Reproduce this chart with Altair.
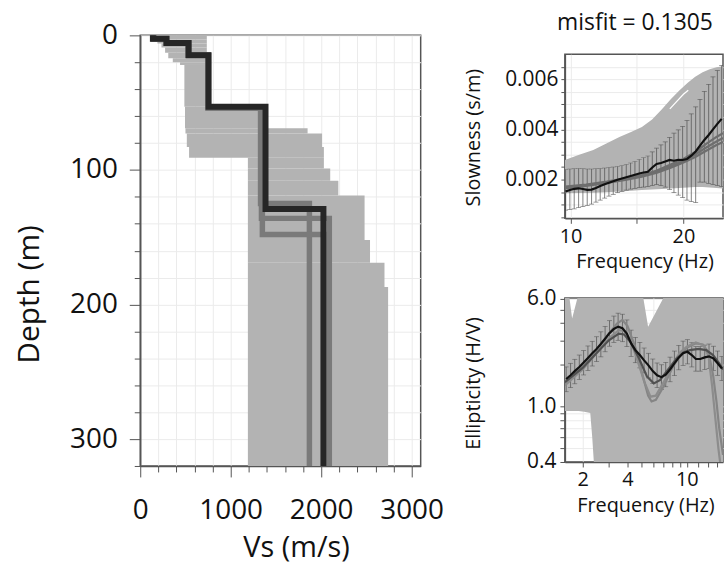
import altair as alt
import pandas as pd

FONT = "Open Sans"
LIGHT = "#b3b3b3"
MID = "#7a7a7a"
DARK = "#262626"
FRAME = "#555555"
TXT = "#111111"

# ---------------- Vs profile panel ----------------
env_top = [0, 3, 6, 9, 13, 17, 20, 22, 53, 69, 73, 83, 91, 99, 108, 119, 152, 169, 187]
env_bot = [3, 6, 9, 13, 17, 20, 22, 53, 69, 73, 83, 91, 99, 108, 119, 152, 169, 187, 320]
env_vmin = [145, 190, 235, 275, 310, 360, 440, 488, 495, 500, 515, 540, 1190, 1190, 1190, 1190, 1190, 1190, 1190]
env_vmax = [736, 736, 736, 736, 750, 750, 750, 750, 1390, 1850, 2010, 2030, 2030, 2100, 2190, 2480, 2540, 2700, 2740]

best_depth = [0, 2.5, 5.7, 14.8, 53, 129, 320]
best_vs = [140, 290, 535, 755, 1385, 2025]
alt1_depth = [0, 2.5, 5.7, 14.8, 53, 125, 320]
alt1_vs = [140, 290, 535, 755, 1330, 1870]
alt2_depth = [0, 2.5, 5.7, 14.8, 54, 136, 320]
alt2_vs = [150, 290, 530, 750, 1340, 2090]
alt3_depth = [0, 2.5, 5.7, 14.8, 54, 148, 320]
alt3_vs = [150, 290, 530, 750, 1350, 2030]

vs_ticks = [0, 200, 400, 600, 800, 1000, 1200, 1400, 1600, 1800, 2000, 2200, 2400, 2600, 2800, 3000]
depth_ticks = [0, 20, 40, 60, 80, 100, 120, 140, 160, 180, 200, 220, 240, 260, 280, 300, 320]

# ---------------- Slowness panel ----------------
slo_env_f = [9.66, 10.5, 11.5, 12.5, 13.5, 14.5, 15.5, 16.5, 17.5, 18.5, 19.5, 20.5, 21.5, 22.5, 23.5, 24.5, 25.5]
slo_env_lo = [0.00145, 0.00146, 0.00147, 0.00149, 0.00152, 0.00155, 0.00158, 0.00160, 0.00162, 0.00164,
              0.00166, 0.00168, 0.00170, 0.00170, 0.00168, 0.00166, 0.00164]
slo_env_hi = [0.00278, 0.00298, 0.00318, 0.00345, 0.00370, 0.00390, 0.00410, 0.00440, 0.00480, 0.00520,
              0.00555, 0.00585, 0.00610, 0.00628, 0.00640, 0.00648, 0.00652]
slo_gap_f = [18.4, 19.2, 20.0, 20.6]
slo_gap_y = [0.00482, 0.00512, 0.00540, 0.00556]

slo_f = [9.70, 9.96, 10.23, 10.51, 10.79, 11.08, 11.38, 11.69, 12.0, 12.33, 12.66, 13.0, 13.35, 13.71,
         14.08, 14.46, 14.85, 15.25, 15.66, 16.08, 16.52, 16.96, 17.42, 17.89, 18.37, 18.87, 19.38,
         19.9, 20.44, 20.99, 21.56, 22.14, 22.74, 23.35, 23.98, 24.63, 25.29]
slo_mean = [0.00152, 0.00158, 0.00163, 0.00165, 0.00162, 0.00159, 0.00160, 0.00166, 0.00174, 0.00181,
            0.00187, 0.00193, 0.00199, 0.00204, 0.00209, 0.00214, 0.00219, 0.00224, 0.00228, 0.00231,
            0.00248, 0.00262, 0.00266, 0.00272, 0.00278, 0.00275, 0.00279, 0.00278, 0.00282, 0.00295,
            0.00312, 0.00335, 0.00358, 0.00378, 0.00400, 0.00422, 0.00442]
slo_low = [0.00078, 0.00080, 0.00083, 0.00088, 0.00092, 0.00097, 0.00102, 0.00110, 0.00118, 0.00126,
           0.00134, 0.00141, 0.00148, 0.00153, 0.00158, 0.00162, 0.00165, 0.00168, 0.00170, 0.00172,
           0.00176, 0.00180, 0.00176, 0.00170, 0.00160, 0.00148, 0.00138, 0.00128, 0.00118, 0.00112,
           0.00108, 0.00190, 0.00190, 0.00185, 0.00180, 0.00176, 0.00172]
slo_high = [0.00240, 0.00242, 0.00243, 0.00244, 0.00243, 0.00242, 0.00242, 0.00243, 0.00244, 0.00246,
            0.00248, 0.00250, 0.00252, 0.00255, 0.00260, 0.00266, 0.00272, 0.00280, 0.00287, 0.00294,
            0.00310, 0.00325, 0.00338, 0.00350, 0.00368, 0.00385, 0.00398, 0.00412, 0.00436, 0.00462,
            0.00490, 0.00520, 0.00552, 0.00580, 0.00610, 0.00635, 0.00655]

slo_model_f = [9.66, 11, 12.5, 14, 15.5, 17, 18.5, 20, 21.5, 23, 24.5, 25.5]
slo_model_1 = [0.00172, 0.00180, 0.00192, 0.00205, 0.00218, 0.00236, 0.00260, 0.00282, 0.00310, 0.00342, 0.00370, 0.00385]
slo_model_2 = [0.00168, 0.00177, 0.00189, 0.00201, 0.00214, 0.00231, 0.00253, 0.00274, 0.00300, 0.00328, 0.00352, 0.00366]
slo_model_3 = [0.00165, 0.00174, 0.00186, 0.00198, 0.00211, 0.00227, 0.00247, 0.00268, 0.00290, 0.00315, 0.00338, 0.00350]

slo_ticks = [0.0005, 0.001, 0.0015, 0.002, 0.0025, 0.003, 0.0035, 0.004, 0.0045, 0.005, 0.0055, 0.006, 0.0065]
slo_freq_ticks = [10, 15, 20]

# ---------------- Ellipticity panel ----------------
ell_env_f = [1.52, 1.60, 1.63, 1.70, 1.85, 1.88, 2.05, 2.25, 2.32, 2.42, 5.0, 5.1, 5.5, 7.0, 7.1, 17.5]
ell_env_hi = [8, 8, 6.1, 4.3, 6.1, 8, 8, 8, 8, 8, 8, 6.1, 3.75, 6.1, 8, 8]
ell_env_lo = [0.93, 0.93, 0.93, 0.93, 0.93, 0.93, 0.92, 0.90, 0.60, 0.30, 0.30, 0.30, 0.30, 0.30, 0.30, 0.30]

ell_f = [1.55, 1.66, 1.77, 1.90, 2.03, 2.17, 2.32, 2.48, 2.65, 2.83, 3.03, 3.24, 3.46, 3.70, 3.96, 4.23,
         4.52, 4.84, 5.17, 5.53, 5.91, 6.32, 6.76, 7.22, 7.72, 8.26, 8.83, 9.44, 10.1, 10.8, 11.5, 12.3,
         13.2, 14.1, 15.1, 16.1, 17.2]
ell_mean = [1.58, 1.68, 1.80, 1.93, 2.08, 2.24, 2.42, 2.60, 2.82, 3.08, 3.38, 3.62, 3.76, 3.66, 3.35, 2.85,
            2.55, 2.35, 2.15, 1.98, 1.80, 1.68, 1.63, 1.70, 1.85, 2.05, 2.25, 2.42, 2.48, 2.35, 2.20, 2.20,
            2.26, 2.30, 2.22, 2.05, 1.88]
ell_low = [1.28, 1.37, 1.46, 1.57, 1.69, 1.82, 1.96, 2.11, 2.28, 2.48, 2.72, 2.90, 3.00, 2.93, 2.70, 2.30,
           2.07, 1.90, 1.75, 1.61, 1.47, 1.37, 1.33, 1.39, 1.51, 1.67, 1.84, 1.98, 2.03, 1.93, 1.80, 1.80,
           1.85, 1.88, 1.82, 1.68, 1.54]
ell_high = [1.93, 2.05, 2.19, 2.35, 2.53, 2.73, 2.95, 3.18, 3.45, 3.78, 4.15, 4.48, 4.70, 4.62, 4.20, 3.55,
            3.15, 2.90, 2.64, 2.42, 2.20, 2.06, 2.00, 2.08, 2.27, 2.51, 2.76, 2.96, 3.03, 2.88, 2.70, 2.70,
            2.77, 2.82, 2.72, 2.51, 2.30]

ell_g1_f = [1.52, 2.0, 2.5, 3.0, 3.4, 3.7, 4.0, 4.5, 5.0, 5.5, 5.8, 6.2, 7.0, 8.0, 9.0, 10.0, 11.5, 12.8, 14.0, 15.0, 15.8, 16.5, 17.5]
ell_g1 = [1.45, 1.95, 2.6, 3.35, 3.95, 4.2, 3.8, 2.7, 1.75, 1.2, 1.09, 1.12, 1.4, 1.9, 2.35, 2.65, 2.85, 2.8, 2.45, 1.7, 1.1, 0.7, 0.45]
ell_g2_f = [1.52, 2.0, 2.5, 3.0, 3.5, 3.8, 4.2, 4.7, 5.2, 5.7, 6.2, 7.0, 8.0, 9.0, 10.0, 11.5, 13.0, 14.0, 14.8, 15.5, 16.3, 17.0]
ell_g2 = [1.42, 1.85, 2.45, 3.1, 3.55, 3.5, 3.0, 2.1, 1.5, 1.18, 1.2, 1.5, 2.0, 2.45, 2.7, 2.9, 2.75, 2.3, 1.4, 0.85, 0.5, 0.35]
ell_d_f = [1.52, 2.0, 2.5, 3.0, 3.5, 3.8, 4.2, 4.8, 5.4, 6.0, 6.6, 7.5, 8.5, 9.5, 10.5, 12.0, 13.5, 15.0, 16.5, 17.5]
ell_d = [1.5, 1.9, 2.45, 3.0, 3.35, 3.3, 2.9, 2.2, 1.65, 1.47, 1.55, 1.85, 2.2, 2.45, 2.55, 2.6, 2.55, 2.35, 2.05, 1.85]

ell_y_ticks = [0.4, 0.5, 0.6, 0.7, 0.8, 0.9, 1, 2, 3, 4, 5, 6]
ell_y_labels = ["0.4", "1.0", "6.0"]
ell_x_ticks = [2, 3, 4, 5, 6, 7, 8, 9, 10, 12, 14, 16]
ell_x_labels = ["2", "4", "10"]

# ================= build tables =================
env_df = pd.DataFrame({"d": env_top, "d2": env_bot, "v": env_vmin, "v2": env_vmax})


def profile_rows(name, depths, vs):
    rows = []
    k = 0
    for i, v in enumerate(vs):
        rows.append({"model": name, "v": v, "d": depths[i], "k": k})
        k += 1
        rows.append({"model": name, "v": v, "d": depths[i + 1], "k": k})
        k += 1
    return rows


alt_df = pd.DataFrame(profile_rows("a1", alt1_depth, alt1_vs)
                      + profile_rows("a2", alt2_depth, alt2_vs)
                      + profile_rows("a3", alt3_depth, alt3_vs))
best_df = pd.DataFrame(profile_rows("best", best_depth, best_vs))


def label_expr(labels, out="datum.label"):
    cond = " || ".join("datum.label === '%s'" % s for s in labels)
    return "(%s) ? %s : ''" % (cond, out)


W1, H1 = 282, 433
xv = alt.X("v:Q", scale=alt.Scale(domain=[0, 3100], nice=False, zero=False),
           axis=alt.Axis(values=vs_ticks, title="Vs (m/s)", format="d",
                         labelExpr=label_expr(["0", "1000", "2000", "3000"]),
                         labelFontSize=28, titleFontSize=29, labelPadding=20,
                         tickSize={"condition": {"test": "datum.value % 1000 === 0", "value": 11}, "value": 6},
                         titleX=156.7, titleY=82, titleBaseline="middle", titleAlign="center",
                         labelFlush=False, labelOverlap=False))
yd = alt.Y("d:Q", scale=alt.Scale(domain=[0, 320], nice=False, zero=False, reverse=True),
           axis=alt.Axis(values=depth_ticks, title="Depth (m)", format="d",
                         labelExpr=label_expr(["0", "100", "200", "300"]),
                         labelFontSize=28, titleFontSize=30, labelPadding=12,
                         tickSize={"condition": {"test": "datum.value % 100 === 0", "value": 11}, "value": 6},
                         titleX=-111, titleY=260, titleBaseline="middle", titleAlign="center",
                         labelFlush=False, labelOverlap=False))

env_layer = alt.Chart(env_df).mark_rect(color=LIGHT).encode(x=xv, x2="v2:Q", y=yd, y2="d2:Q")
alt_layer = alt.Chart(alt_df).mark_line(color=MID, strokeWidth=5.5, strokeJoin="miter").encode(
    x=xv, y=yd, detail="model:N", order="k:Q")
best_layer = alt.Chart(best_df).mark_line(color=DARK, strokeWidth=6, strokeJoin="miter").encode(
    x=xv, y=yd, order="k:Q")
left = alt.layer(env_layer, alt_layer, best_layer).properties(width=W1, height=H1)

# ---------------- slowness chart ----------------
W2, H2 = 159, 165
slo_env_df = pd.DataFrame({"f": slo_env_f, "y": slo_env_lo, "y2": slo_env_hi})
slo_gap_df = pd.DataFrame({"f": slo_gap_f, "y": slo_gap_y})
slo_bar_df = pd.DataFrame({"f": slo_f, "y": slo_low, "y2": slo_high})
slo_caplo_df = pd.DataFrame({"f": slo_f, "y": slo_low})
slo_caphi_df = pd.DataFrame({"f": slo_f, "y": slo_high})
slo_mean_df = pd.DataFrame({"f": slo_f, "y": slo_mean})
slo_mod_df = pd.DataFrame({
    "f": slo_model_f * 3,
    "y": slo_model_1 + slo_model_2 + slo_model_3,
    "model": ["m1"] * len(slo_model_f) + ["m2"] * len(slo_model_f) + ["m3"] * len(slo_model_f),
})

xf = alt.X("f:Q", scale=alt.Scale(type="log", domain=[9.66, 25.5], nice=False),
           axis=alt.Axis(values=slo_freq_ticks, title="Frequency (Hz)", format="d",
                         labelExpr=label_expr(["10", "20"]),
                         labelFontSize=20, titleFontSize=20, labelPadding=3, tickSize=5,
                         titleX=80.2, titleY=43, titleBaseline="middle", titleAlign="center",
                         labelFlush=False, labelOverlap=False))
ys_ = alt.Y("y:Q", scale=alt.Scale(domain=[0.00045, 0.007], nice=False, zero=False),
            axis=alt.Axis(values=slo_ticks, title="Slowness (s/m)", format=".4f",
                          labelExpr=label_expr(["0.0020", "0.0040", "0.0060"], "format(datum.value, '.3f')"),
                          labelFontSize=21, titleFontSize=20, labelPadding=3, tickSize=4,
                          titleX=-92.3, titleY=83.3, titleBaseline="middle", titleAlign="center",
                          labelFlush=False, labelOverlap=False))

CAP = dict(orient="horizontal", size=5, thickness=0.7, color="#4d4d4d", clip=True)
s_env = alt.Chart(slo_env_df).mark_area(color=LIGHT, clip=True).encode(x=xf, y=ys_, y2="y2:Q")
s_gap = alt.Chart(slo_gap_df).mark_line(color="white", strokeWidth=1.3, clip=True).encode(x=xf, y=ys_)
s_bar = alt.Chart(slo_bar_df).mark_rule(color="#4d4d4d", strokeWidth=0.7, clip=True).encode(x=xf, y=ys_, y2="y2:Q")
s_cap_lo = alt.Chart(slo_caplo_df).mark_tick(**CAP).encode(x=xf, y=ys_)
s_cap_hi = alt.Chart(slo_caphi_df).mark_tick(**CAP).encode(x=xf, y=ys_)
s_mod = alt.Chart(slo_mod_df).mark_line(color="#6e6e6e", strokeWidth=2.2, clip=True).encode(x=xf, y=ys_, detail="model:N")
s_mean = alt.Chart(slo_mean_df).mark_line(color="#111111", strokeWidth=2.2, clip=True).encode(x=xf, y=ys_)
slow = alt.layer(s_env, s_gap, s_bar, s_cap_lo, s_cap_hi, s_mod, s_mean).properties(
    width=W2, height=H2,
    title=alt.TitleParams("misfit = 0.1305", fontSize=23, font=FONT, fontWeight="normal",
                          anchor="middle", dx=-9, offset=19, color=TXT))

# ---------------- ellipticity chart ----------------
ell_env_df = pd.DataFrame({"f": ell_env_f, "y": ell_env_lo, "y2": ell_env_hi})
ell_bar_df = pd.DataFrame({"f": ell_f, "y": ell_low, "y2": ell_high})
ell_caplo_df = pd.DataFrame({"f": ell_f, "y": ell_low})
ell_caphi_df = pd.DataFrame({"f": ell_f, "y": ell_high})
ell_mean_df = pd.DataFrame({"f": ell_f, "y": ell_mean})
ell_g1_df = pd.DataFrame({"f": ell_g1_f, "y": ell_g1})
ell_g2_df = pd.DataFrame({"f": ell_g2_f, "y": ell_g2})
ell_d_df = pd.DataFrame({"f": ell_d_f, "y": ell_d})

xe = alt.X("f:Q", scale=alt.Scale(type="log", domain=[1.52, 17.5], nice=False),
           axis=alt.Axis(values=ell_x_ticks, title="Frequency (Hz)", format="d",
                         labelExpr=label_expr(ell_x_labels),
                         labelFontSize=20, titleFontSize=20, labelPadding=3, tickSize=5,
                         titleX=81, titleY=44, titleBaseline="middle", titleAlign="center",
                         labelFlush=False, labelOverlap=False))
ye = alt.Y("y:Q", scale=alt.Scale(type="log", domain=[0.4, 6.05], nice=False),
           axis=alt.Axis(values=ell_y_ticks, title="Ellipticity (H/V)", format=".1f",
                         labelExpr=label_expr(ell_y_labels),
                         labelFontSize=21, titleFontSize=20, labelPadding=4, tickSize=5,
                         labelBaseline="middle", labelBound=False,
                         titleX=-92.3, titleY=85.5, titleBaseline="middle", titleAlign="center",
                         labelFlush=False, labelOverlap=False))

e_env = alt.Chart(ell_env_df).mark_area(color=LIGHT, clip=True).encode(x=xe, y=ye, y2="y2:Q")
e_bar = alt.Chart(ell_bar_df).mark_rule(color="#4d4d4d", strokeWidth=0.7, clip=True).encode(x=xe, y=ye, y2="y2:Q")
e_cap_lo = alt.Chart(ell_caplo_df).mark_tick(**CAP).encode(x=xe, y=ye)
e_cap_hi = alt.Chart(ell_caphi_df).mark_tick(**CAP).encode(x=xe, y=ye)
e_g1 = alt.Chart(ell_g1_df).mark_line(color="#858585", strokeWidth=2.2, clip=True).encode(x=xe, y=ye)
e_g2 = alt.Chart(ell_g2_df).mark_line(color="#8c8c8c", strokeWidth=2.2, clip=True).encode(x=xe, y=ye)
e_d = alt.Chart(ell_d_df).mark_line(color="#505050", strokeWidth=2.2, clip=True).encode(x=xe, y=ye)
e_mean = alt.Chart(ell_mean_df).mark_line(color="#111111", strokeWidth=2.2, clip=True).encode(x=xe, y=ye)
ell = alt.layer(e_env, e_bar, e_cap_lo, e_cap_hi, e_g1, e_g2, e_d, e_mean).properties(width=W2, height=H2)

spacer = alt.Chart(pd.DataFrame({"a": [0]})).mark_point(opacity=0).encode(
    x=alt.X("a:Q", axis=None), y=alt.Y("a:Q", axis=None)
).properties(width=W2, height=19, view=alt.ViewBackground(stroke="transparent"))

right = alt.vconcat(spacer, alt.vconcat(slow, ell, spacing=80, bounds="flush"), spacing=0, bounds="flush")

chart = alt.hconcat(left, right, spacing=145, bounds="flush").properties(
    padding={"left": 14, "top": 10, "right": 0, "bottom": 0}
).configure_view(stroke=FRAME, strokeWidth=1.5).configure_axis(
    labelFont=FONT, titleFont=FONT, domainColor=FRAME, domainWidth=1.5, tickColor=FRAME,
    gridColor="#ebebeb", gridWidth=1, labelColor=TXT, titleColor=TXT, titleFontWeight="normal",
    labelFlush=False
).configure_title(font=FONT, fontWeight="normal", color=TXT)

chart.save("out.html", embed_options={"renderer": "svg", "actions": False})
